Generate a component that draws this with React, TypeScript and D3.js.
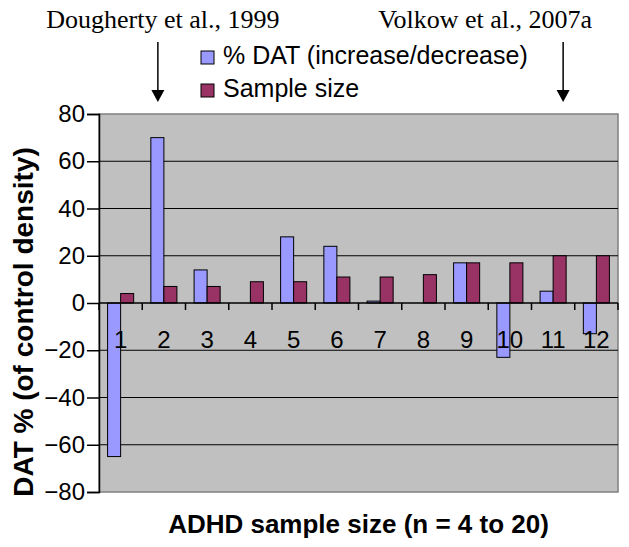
import React, { useEffect, useRef } from 'react';
import * as d3 from 'd3';

// categories (study index, ordered by ADHD sample size)
const categories = ['1', '2', '3', '4', '5', '6', '7', '8', '9', '10', '11', '12'];
// % change in DAT vs control density
const datChange = [-65, 70, 14, 0, 28, 24, 0.8, 0, 17, -23, 5, -13];
// ADHD sample size
const sampleSize = [4, 7, 7, 9, 9, 11, 11, 12, 17, 17, 20, 20];
const seriesNames = ['% DAT (increase/decrease)', 'Sample size'];
const seriesColors = ['#9999ff', '#993366'];
const yTicks = [-80, -60, -40, -20, 0, 20, 40, 60, 80];
const annotations = [
  { text: 'Dougherty et al., 1999', cat: '2' },
  { text: 'Volkow et al., 2007a', cat: '11' },
];

const SANS = "'Liberation Sans', Arial, Helvetica, sans-serif";
const SERIF = "'Liberation Serif', 'Times New Roman', serif";

const App = () => {
  const svgRef = useRef(null);

  useEffect(() => {
    const width = 629;
    const height = 547;
    const margin = { top: 114, right: 11, bottom: 55, left: 99 };
    const innerW = width - margin.left - margin.right;
    const innerH = height - margin.top - margin.bottom;

    const root = d3.select(svgRef.current);
    root.selectAll('*').remove();
    root.attr('width', width).attr('height', height);

    root.append('rect').attr('width', width).attr('height', height).attr('fill', '#fff');

    const svg = root.append('g').attr('transform', `translate(${margin.left},${margin.top})`);

    const x0 = d3.scaleBand().domain(categories).range([0, innerW]).padding(0);
    const x1 = d3.scaleBand().domain(['0', '1']).range([0, x0.bandwidth()])
      .paddingInner(0).paddingOuter(0.66);
    const y = d3.scaleLinear().domain([-80, 80]).range([innerH, 0]);

    // plot background
    svg.append('rect')
      .attr('width', innerW)
      .attr('height', innerH)
      .attr('fill', '#c0c0c0')
      .attr('stroke', '#808080')
      .attr('stroke-width', 1.5);

    // gridlines
    svg.append('g')
      .selectAll('line')
      .data(yTicks.filter(t => t !== 0 && Math.abs(t) !== 80))
      .join('line')
      .attr('x1', 0)
      .attr('x2', innerW)
      .attr('y1', d => y(d))
      .attr('y2', d => y(d))
      .attr('stroke', '#000')
      .attr('stroke-width', 1.2);

    // bars
    const rows = categories.map((c, i) => ({ c, vals: [datChange[i], sampleSize[i]] }));
    const grp = svg.append('g')
      .selectAll('g')
      .data(rows)
      .join('g')
      .attr('transform', d => `translate(${x0(d.c)},0)`);

    grp.selectAll('rect')
      .data(d => d.vals.map((v, k) => ({ v, k })).filter(e => e.v !== 0))
      .join('rect')
      .attr('x', d => x1(String(d.k)))
      .attr('width', x1.bandwidth())
      .attr('y', d => y(Math.max(0, d.v)))
      .attr('height', d => Math.abs(y(d.v) - y(0)))
      .attr('fill', d => seriesColors[d.k])
      .attr('stroke', '#000')
      .attr('stroke-width', 1);

    // x axis along zero
    const xAxis = svg.append('g').attr('transform', `translate(0,${y(0)})`);
    xAxis.append('line').attr('x1', 0).attr('x2', innerW).attr('stroke', '#000').attr('stroke-width', 1.5);
    xAxis.selectAll('line.tick')
      .data(d3.range(categories.length + 1))
      .join('line')
      .attr('class', 'tick')
      .attr('x1', i => i * x0.step())
      .attr('x2', i => i * x0.step())
      .attr('y1', 0)
      .attr('y2', 7)
      .attr('stroke', '#000')
      .attr('stroke-width', 1.5);
    xAxis.selectAll('text')
      .data(categories)
      .join('text')
      .attr('x', d => x0(d) + x0.bandwidth() / 2)
      .attr('y', 45)
      .attr('text-anchor', 'middle')
      .style('font-family', SANS)
      .style('font-size', '24px')
      .text(d => d);

    // y axis
    const yAxis = svg.append('g')
      .call(d3.axisLeft(y).tickValues(yTicks).tickSize(12).tickPadding(2));
    yAxis.select('.domain').attr('stroke', '#000').attr('stroke-width', 1.5);
    yAxis.selectAll('.tick line').attr('stroke-width', 1.5);
    yAxis.selectAll('.tick text')
      .style('font-family', SANS)
      .style('font-size', '24px')
      .attr('fill', '#000');

    // axis titles
    root.append('text')
      .attr('x', margin.left + innerW / 2)
      .attr('y', 533)
      .attr('text-anchor', 'middle')
      .style('font-family', SANS)
      .style('font-size', '26px')
      .style('font-weight', 'bold')
      .text('ADHD sample size (n = 4 to 20)');

    root.append('text')
      .attr('transform', 'translate(33,322) rotate(-90)')
      .attr('text-anchor', 'middle')
      .style('font-family', SANS)
      .style('font-size', '28px')
      .style('font-weight', 'bold')
      .text('DAT % (of control density)');

    // legend
    const legend = root.append('g').attr('transform', 'translate(201,51)');
    seriesNames.forEach((name, i) => {
      legend.append('rect')
        .attr('x', 0)
        .attr('y', i * 33)
        .attr('width', 13)
        .attr('height', 13)
        .attr('fill', seriesColors[i])
        .attr('stroke', '#000')
        .attr('stroke-width', 1);
      legend.append('text')
        .attr('x', 22)
        .attr('y', i * 33 + 12.5)
        .style('font-family', SANS)
        .style('font-size', '25px')
        .text(name);
    });

    // study annotations with arrows
    const arrowShift = [-6, 10];
    const textShift = [5, -78];
    annotations.forEach((a, i) => {
      const ax = margin.left + x0(a.cat) + x0.bandwidth() / 2 + arrowShift[i];
      root.append('text')
        .attr('x', ax + textShift[i])
        .attr('y', 28)
        .attr('text-anchor', 'middle')
        .style('font-family', SERIF)
        .style('font-size', '26px')
        .text(a.text);
      root.append('line')
        .attr('x1', ax)
        .attr('x2', ax)
        .attr('y1', 42)
        .attr('y2', 92)
        .attr('stroke', '#000')
        .attr('stroke-width', 1.5);
      root.append('path')
        .attr('d', `M${ax - 6.5},90 L${ax + 6.5},90 L${ax},102 Z`)
        .attr('fill', '#000');
    });
  }, []);

  return (
    <div style={{ position: 'absolute', left: 0, top: 0 }}>
      <svg ref={svgRef}></svg>
    </div>
  );
};

export default App;
